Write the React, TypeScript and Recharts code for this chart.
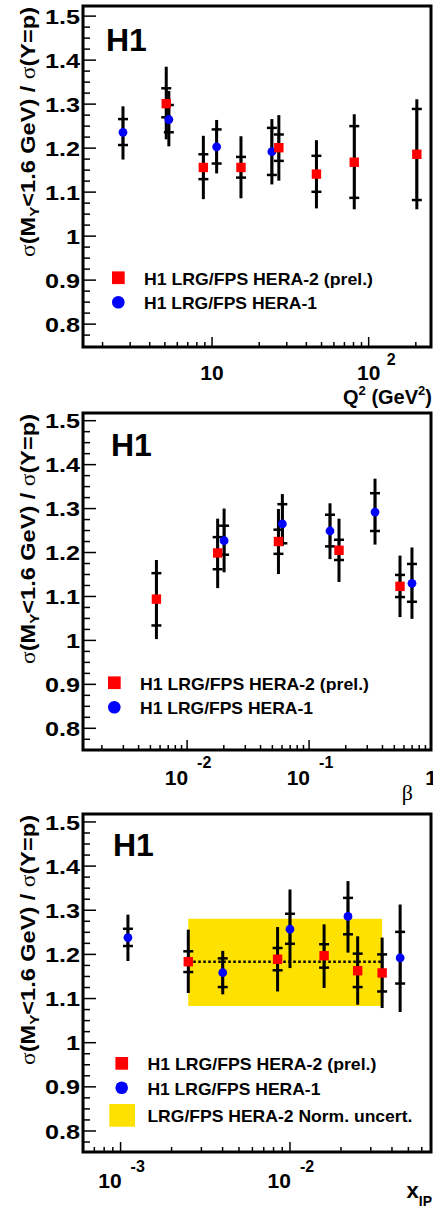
import React from 'react';
import { ScatterChart, Scatter, XAxis, YAxis, ErrorBar, ReferenceArea, ReferenceLine } from 'recharts';

const SANS = "'Liberation Sans', Arial, Helvetica, sans-serif";
const SERIF = "'Liberation Serif', 'Times New Roman', serif";
const RED = '#ff0000';
const BLUE = '#0000ff';
const YELLOW = '#ffe100';

// ---- Q^2 panel
const q2Hera2 = [5.1, 8.8, 15.3, 26.7, 46.4, 80.9, 203];
const q2Hera2Val = [1.301, 1.156, 1.156, 1.201, 1.141, 1.168, 1.186];
const q2Hera2StatLo = [1.27, 1.1295, 1.133, 1.171, 1.1007, 1.087, 1.082];
const q2Hera2StatHi = [1.336, 1.186, 1.18, 1.231, 1.1825, 1.25, 1.289];
const q2Hera2TotLo = [1.22, 1.084, 1.086, 1.126, 1.063, 1.061, 1.061];
const q2Hera2TotHi = [1.385, 1.228, 1.227, 1.275, 1.218, 1.277, 1.311];

const q2Hera1 = [2.7, 5.3, 10.7, 24.1];
const q2Hera1Val = [1.236, 1.265, 1.203, 1.192];
const q2Hera1StatLo = [1.207, 1.236, 1.165, 1.139];
const q2Hera1StatHi = [1.266, 1.298, 1.2425, 1.246];
const q2Hera1TotLo = [1.174, 1.204, 1.1425, 1.1175];
const q2Hera1TotHi = [1.295, 1.33, 1.264, 1.266];

// ---- beta panel
const betaHera2 = [0.0056, 0.0178, 0.0561, 0.176, 0.557];
const betaHera2Val = [1.094, 1.199, 1.225, 1.205, 1.123];
const betaHera2StatLo = [1.034, 1.162, 1.197, 1.183, 1.0986];
const betaHera2StatHi = [1.153, 1.235, 1.252, 1.229, 1.149];
const betaHera2TotLo = [1.003, 1.119, 1.151, 1.133, 1.053];
const betaHera2TotHi = [1.183, 1.277, 1.299, 1.277, 1.193];

const betaHera1 = [0.0201, 0.0604, 0.1485, 0.3475, 0.698];
const betaHera1Val = [1.227, 1.265, 1.249, 1.292, 1.13];
const betaHera1StatLo = [1.195, 1.221, 1.214, 1.249, 1.088];
const betaHera1StatHi = [1.261, 1.31, 1.286, 1.335, 1.174];
const betaHera1TotLo = [1.155, 1.215, 1.185, 1.218, 1.049];
const betaHera1TotHi = [1.3, 1.333, 1.312, 1.368, 1.2115];

// ---- x_IP panel
const xpHera2 = [0.00251, 0.00845, 0.0159, 0.0251, 0.035];
const xpHera2Val = [1.1835, 1.189, 1.197, 1.163, 1.158];
const xpHera2StatLo = [1.16, 1.164, 1.17, 1.126, 1.116];
const xpHera2StatHi = [1.207, 1.2145, 1.223, 1.2017, 1.2];
const xpHera2TotLo = [1.1125, 1.116, 1.124, 1.086, 1.0785];
const xpHera2TotHi = [1.256, 1.262, 1.268, 1.241, 1.238];

const xpHera1 = [0.001105, 0.00401, 0.01, 0.022, 0.0447];
const xpHera1Val = [1.238, 1.1586, 1.257, 1.286, 1.192];
const xpHera1StatLo = [1.219, 1.126, 1.224, 1.2455, 1.134];
const xpHera1StatHi = [1.258, 1.191, 1.292, 1.328, 1.251];
const xpHera1TotLo = [1.185, 1.1095, 1.169, 1.204, 1.0695];
const xpHera1TotHi = [1.29, 1.208, 1.347, 1.366, 1.313];

// HERA-2 normalisation band and mean
const normBandX = [0.00251, 0.035];
const normBandY = [1.083, 1.281];
const normMean = 1.1835;

// ---- axes
const yTicks = [
  0.775, 0.8, 0.825, 0.85, 0.875, 0.9, 0.925, 0.95, 0.975, 1, 1.025, 1.05, 1.075, 1.1, 1.125, 1.15, 1.175,
  1.2, 1.225, 1.25, 1.275, 1.3, 1.325, 1.35, 1.375, 1.4, 1.425, 1.45, 1.475, 1.5,
];
const q2Ticks = [2, 3, 4, 5, 6, 7, 8, 9, 10, 20, 30, 40, 50, 60, 70, 80, 90, 100, 200];
const betaTicks = [
  0.002, 0.003, 0.004, 0.005, 0.006, 0.007, 0.008, 0.009, 0.01, 0.02, 0.03, 0.04, 0.05, 0.06, 0.07, 0.08, 0.09,
  0.1, 0.2, 0.3, 0.4, 0.5, 0.6, 0.7, 0.8, 0.9, 1,
];
const xpTicks = [
  0.0007, 0.0008, 0.0009, 0.001, 0.002, 0.003, 0.004, 0.005, 0.006, 0.007, 0.008, 0.009, 0.01, 0.02, 0.03, 0.04,
  0.05, 0.06,
];

type TickLabel = { v: number; base: string; exp?: string };
const q2Labels: TickLabel[] = [{ v: 10, base: '10' }, { v: 100, base: '10', exp: '2' }];
const betaLabels: TickLabel[] = [
  { v: 0.01, base: '10', exp: '-2' },
  { v: 0.1, base: '10', exp: '-1' },
  { v: 1, base: '1' },
];
const xpLabels: TickLabel[] = [
  { v: 0.001, base: '10', exp: '-3' },
  { v: 0.01, base: '10', exp: '-2' },
];

const legendHera2 = 'H1 LRG/FPS HERA-2 (prel.)';
const legendHera1 = 'H1 LRG/FPS HERA-1';
const legendNorm = 'LRG/FPS HERA-2 Norm. uncert.';

type Row = { x: number; y: number; stat: [number, number]; tot: [number, number] };

function rows(xs: number[], ys: number[], sLo: number[], sHi: number[], tLo: number[], tHi: number[]): Row[] {
  return xs.map((x, i) => ({
    x,
    y: ys[i],
    stat: [ys[i] - sLo[i], sHi[i] - ys[i]],
    tot: [ys[i] - tLo[i], tHi[i] - ys[i]],
  }));
}

const RedSquare = (p: any) => <rect x={p.cx - 4.7} y={p.cy - 4.7} width={9.4} height={9.4} fill={RED} />;
const BlueDot = (p: any) => <circle cx={p.cx} cy={p.cy} r={4.4} fill={BLUE} />;

function YTick(props: any) {
  const { x, y, payload } = props;
  const v = payload.value;
  const major = Math.abs(v * 10 - Math.round(v * 10)) < 1e-6;
  return (
    <g>
      <line x1={x} x2={x + (major ? 13 : 7)} y1={y} y2={y} stroke="#000" strokeWidth={1.5} />
      {major && (
        <text
          transform={`translate(${x - 3}, ${y}) scale(1.2, 1)`}
          dy="0.36em"
          textAnchor="end"
          fontFamily={SANS}
          fontWeight="bold"
          fontSize={21}
          fill="#000"
        >
          {v === 1 ? '1' : v.toFixed(1)}
        </text>
      )}
    </g>
  );
}

type XCfg = { labels: TickLabel[]; centered: boolean; baseDy: number; expDy: number; expDx: number };

function XTick(props: any) {
  const { x, y, payload, cfg } = props as { x: number; y: number; payload: any; cfg: XCfg };
  const v = payload.value as number;
  const lab = cfg.labels.find((l) => Math.abs(Math.log10(l.v) - Math.log10(v)) < 1e-6);
  const major = !!lab || Math.abs(Math.log10(v) - Math.round(Math.log10(v))) < 1e-6;
  return (
    <g>
      <line x1={x} x2={x} y1={y} y2={y - (major ? 10 : 5)} stroke="#000" strokeWidth={1.5} />
      {lab && (
        <text
          x={lab.exp && !cfg.centered ? x + 1 : x}
          y={y + cfg.baseDy}
          textAnchor={lab.exp && !cfg.centered ? 'end' : 'middle'}
          fontFamily={SANS}
          fontWeight="bold"
          fontSize={21}
        >
          {lab.base}
        </text>
      )}
      {lab && lab.exp && (
        <text x={x + cfg.expDx} y={y + cfg.expDy} textAnchor="start" fontFamily={SANS} fontWeight="bold" fontSize={16}>
          {lab.exp}
        </text>
      )}
    </g>
  );
}

type PanelProps = {
  top: number;
  height: number;
  plotTop: number;
  plotBottom: number;
  xDomain: [number, number];
  yDomain: [number, number];
  xTicks: number[];
  xCfg: XCfg;
  red: Row[];
  blue: Row[];
  band?: boolean;
  h1x: number;
  legX: number;
  legY: number;
  xTitle: React.ReactNode;
};

function Panel(p: PanelProps) {
  return (
    <div style={{ position: 'absolute', left: 0, top: p.top }}>
      <ScatterChart width={433} height={p.height} margin={{ top: p.plotTop, right: 2, bottom: 0, left: 0 }}>
        <XAxis
          dataKey="x"
          type="number"
          scale="log"
          domain={p.xDomain}
          allowDataOverflow
          ticks={p.xTicks}
          interval={0}
          tick={(tp: any) => <XTick {...tp} cfg={p.xCfg} />}
          height={p.height - p.plotBottom}
          axisLine={false}
          tickLine={false}
          tickSize={0}
          tickMargin={0}
        />
        <YAxis
          dataKey="y"
          type="number"
          domain={p.yDomain}
          allowDataOverflow
          ticks={yTicks}
          interval={0}
          tick={(tp: any) => <YTick {...tp} />}
          width={83}
          axisLine={false}
          tickLine={false}
          tickSize={0}
          tickMargin={0}
        />
        {p.band && (
          <ReferenceArea
            x1={normBandX[0]}
            x2={normBandX[1]}
            y1={normBandY[0]}
            y2={normBandY[1]}
            fill={YELLOW}
            fillOpacity={1}
            stroke="none"
          />
        )}
        {p.band && (
          <ReferenceLine
            segment={[
              { x: normBandX[0], y: normMean },
              { x: normBandX[1], y: normMean },
            ]}
            stroke="#000"
            strokeWidth={2.5}
            strokeDasharray="2.5 2.5"
          />
        )}
        <Scatter data={p.blue} shape={BlueDot} isAnimationActive={false}>
          <ErrorBar dataKey="tot" direction="y" width={0} stroke="#000" strokeWidth={3} isAnimationActive={false} />
          <ErrorBar dataKey="stat" direction="y" width={5} stroke="#000" strokeWidth={2.5} isAnimationActive={false} />
        </Scatter>
        <Scatter data={p.red} shape={RedSquare} isAnimationActive={false}>
          <ErrorBar dataKey="tot" direction="y" width={0} stroke="#000" strokeWidth={3} isAnimationActive={false} />
          <ErrorBar dataKey="stat" direction="y" width={5} stroke="#000" strokeWidth={2.5} isAnimationActive={false} />
        </Scatter>
        <ReferenceArea
          x1={p.xDomain[0]}
          x2={p.xDomain[1]}
          y1={p.yDomain[0]}
          y2={p.yDomain[1]}
          fill="none"
          stroke="#000"
          strokeWidth={3}
          ifOverflow="visible"
        />

        <text x={p.h1x} y={51} fontFamily={SANS} fontWeight="bold" fontSize={32}>
          H1
        </text>

        <text
          transform={`translate(35, ${p.plotTop + 1}) rotate(-90)`}
          textAnchor="end"
          fontFamily={SANS}
          fontWeight="bold"
          fontSize={20}
          textLength={250}
          lengthAdjust="spacingAndGlyphs"
        >
          <tspan fontFamily={SERIF} fontWeight="normal">σ</tspan>
          <tspan>(M</tspan>
          <tspan fontSize={13} dy={4}>Y</tspan>
          <tspan dy={-4}>{'<1.6 GeV) / '}</tspan>
          <tspan fontFamily={SERIF} fontWeight="normal">σ</tspan>
          <tspan>(Y=p)</tspan>
        </text>

        <rect x={p.legX - 6.3} y={p.legY - 6.3} width={12.7} height={12.7} fill={RED} />
        <text
          x={p.legX + 25.7}
          y={p.legY + 7}
          fontFamily={SANS}
          fontWeight="bold"
          fontSize={17}
          textLength={229}
          lengthAdjust="spacingAndGlyphs"
        >
          {legendHera2}
        </text>
        <circle cx={p.legX} cy={p.legY + 24.5} r={6.3} fill={BLUE} />
        <text
          x={p.legX + 25.7}
          y={p.legY + 31.5}
          fontFamily={SANS}
          fontWeight="bold"
          fontSize={17}
          textLength={173}
          lengthAdjust="spacingAndGlyphs"
        >
          {legendHera1}
        </text>
        {p.band && <rect x={p.legX - 12.4} y={p.legY + 40.7} width={25.7} height={22.7} fill={YELLOW} />}
        {p.band && (
          <text
            x={p.legX + 25.7}
            y={p.legY + 58.4}
            fontFamily={SANS}
            fontWeight="bold"
            fontSize={17}
            textLength={265}
            lengthAdjust="spacingAndGlyphs"
          >
            {legendNorm}
          </text>
        )}

        {p.xTitle}
      </ScatterChart>
    </div>
  );
}

export default function App() {
  const q2Red = rows(q2Hera2, q2Hera2Val, q2Hera2StatLo, q2Hera2StatHi, q2Hera2TotLo, q2Hera2TotHi);
  const q2Blue = rows(q2Hera1, q2Hera1Val, q2Hera1StatLo, q2Hera1StatHi, q2Hera1TotLo, q2Hera1TotHi);
  const betaRed = rows(betaHera2, betaHera2Val, betaHera2StatLo, betaHera2StatHi, betaHera2TotLo, betaHera2TotHi);
  const betaBlue = rows(betaHera1, betaHera1Val, betaHera1StatLo, betaHera1StatHi, betaHera1TotLo, betaHera1TotHi);
  const xpRed = rows(xpHera2, xpHera2Val, xpHera2StatLo, xpHera2StatHi, xpHera2TotLo, xpHera2TotHi);
  const xpBlue = rows(xpHera1, xpHera1Val, xpHera1StatLo, xpHera1StatHi, xpHera1TotLo, xpHera1TotHi);

  return (
    <div style={{ position: 'absolute', left: 0, top: 0, width: 433, height: 1207, background: '#fff' }}>
      <Panel
        top={0}
        height={410}
        plotTop={6}
        plotBottom={347}
        xDomain={[1.5, 250]}
        yDomain={[0.748, 1.523]}
        xTicks={q2Ticks}
        xCfg={{ labels: q2Labels, centered: true, baseDy: 33, expDy: 18, expDx: 18 }}
        red={q2Red}
        blue={q2Blue}
        h1x={106}
        legX={118.3}
        legY={277.7}
        xTitle={
          <text x={432} y={404} textAnchor="end" fontFamily={SANS} fontWeight="bold" fontSize={20}>
            Q<tspan fontSize={13} dy={-9}>2</tspan>
            <tspan dy={9}> (GeV</tspan>
            <tspan fontSize={13} dy={-9}>2</tspan>
            <tspan dy={9}>)</tspan>
          </text>
        }
      />
      <Panel
        top={405}
        height={400}
        plotTop={8}
        plotBottom={345}
        xDomain={[0.0014, 1]}
        yDomain={[0.7506, 1.5175]}
        xTicks={betaTicks}
        xCfg={{ labels: betaLabels, centered: false, baseDy: 35, expDy: 18, expDx: 10 }}
        red={betaRed}
        blue={betaBlue}
        h1x={111}
        legX={114.3}
        legY={277.7}
        xTitle={
          <text x={413} y={395} textAnchor="end" fontFamily={SERIF} fontSize={22}>
            β
          </text>
        }
      />
      <Panel
        top={805}
        height={402}
        plotTop={9}
        plotBottom={347}
        xDomain={[0.0006, 0.068]}
        yDomain={[0.7524, 1.518]}
        xTicks={xpTicks}
        xCfg={{ labels: xpLabels, centered: false, baseDy: 36, expDy: 20, expDx: 10 }}
        red={xpRed}
        blue={xpBlue}
        band
        h1x={113}
        legX={121.7}
        legY={258.3}
        xTitle={
          <text x={432} y={393} textAnchor="end" fontFamily={SANS} fontWeight="bold" fontSize={22}>
            x<tspan fontSize={14} dy={8}>IP</tspan>
          </text>
        }
      />
    </div>
  );
}
